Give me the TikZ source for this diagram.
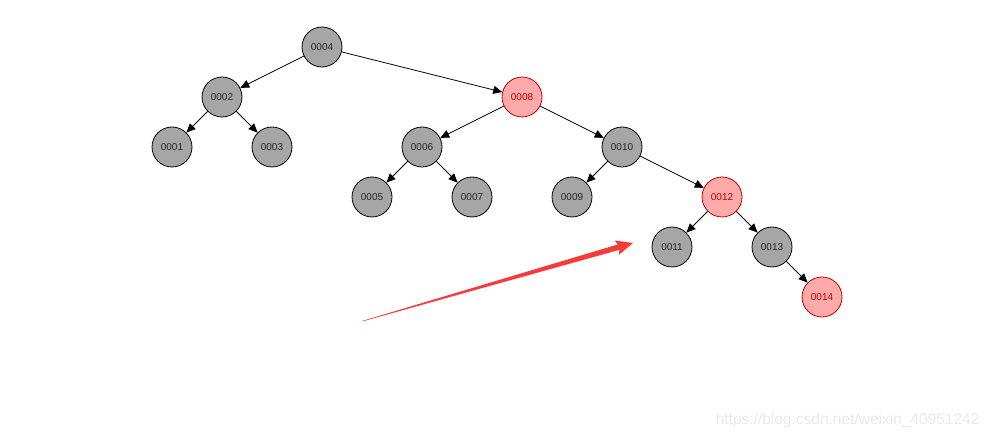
\documentclass[tikz,border=0pt]{standalone}
\usepackage{fontspec}
\setmainfont{Liberation Sans}
\usetikzlibrary{arrows.meta}
\definecolor{nodegray}{HTML}{A6A6A6}
\definecolor{redfill}{HTML}{FFAAAA}
\definecolor{redline}{HTML}{C00000}
\definecolor{bigarrow}{HTML}{F83A3A}
\definecolor{wm}{HTML}{EAEAEA}
\tikzset{
  blk/.style={circle, draw=black, line width=0.8pt, fill=nodegray, minimum size=40pt, inner sep=0pt, font=\fontsize{10}{12}\selectfont, text=black!85},
  rd/.style={blk, draw=redline, fill=redfill, text=redline},
  edge/.style={draw=black, line width=0.8pt, -{Triangle[length=9pt,width=8pt]}}
}
\begin{document}
\begin{tikzpicture}[x=1pt,y=-1pt]
\path[use as bounding box, fill=white] (0,0) rectangle (991,438);
\node[blk] (n4) at (322,47) {0004};
\node[blk] (n2) at (222,97) {0002};
\node[rd]  (n8) at (522,97) {0008};
\node[blk] (n1) at (172,147) {0001};
\node[blk] (n3) at (272,147) {0003};
\node[blk] (n6) at (422,147) {0006};
\node[blk] (n10) at (622,147) {0010};
\node[blk] (n5) at (372,197) {0005};
\node[blk] (n7) at (472,197) {0007};
\node[blk] (n9) at (572,197) {0009};
\node[rd]  (n12) at (722,197) {0012};
\node[blk] (n11) at (672,247) {0011};
\node[blk] (n13) at (772,247) {0013};
\node[rd]  (n14) at (822,297) {0014};
\draw[edge] (n4) -- (n2);
\draw[edge] (n4) -- (n8);
\draw[edge] (n2) -- (n1);
\draw[edge] (n2) -- (n3);
\draw[edge] (n8) -- (n6);
\draw[edge] (n8) -- (n10);
\draw[edge] (n6) -- (n5);
\draw[edge] (n6) -- (n7);
\draw[edge] (n10) -- (n9);
\draw[edge] (n10) -- (n12);
\draw[edge] (n12) -- (n11);
\draw[edge] (n12) -- (n13);
\draw[edge] (n13) -- (n14);
% tapered red arrow
\coordinate (tail) at (362,321);
\begin{scope}[shift={(tail)}, rotate=16.06]
\fill[bigarrow] (0,0) -- (267,-2.8) -- (265,-7.5) -- (282,0) -- (265,7.5) -- (267,2.8) -- (0,0.5) -- cycle;
\end{scope}
\node[anchor=east, text=wm, font=\fontsize{15.5}{18}\selectfont] (wm) at (983,420) {https://blog.csdn.net/weixin\_40951242};
\end{tikzpicture}
\end{document}
